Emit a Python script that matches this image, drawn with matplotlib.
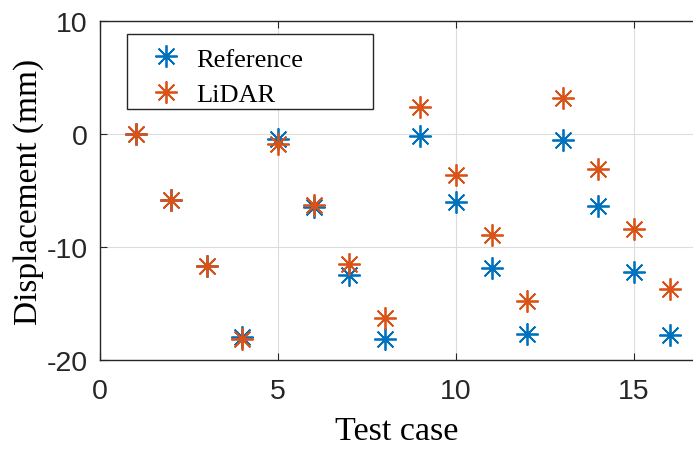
import numpy as np
import matplotlib.pyplot as plt
from matplotlib.patches import Rectangle

plt.rcParams['axes.unicode_minus'] = False

# ---------------- donnees ----------------
test_case = np.arange(1, 17)
reference = [0, -5.8, -11.7, -18.0, -0.45, -6.5, -12.5, -18.1,
             -0.15, -6.0, -11.9, -17.7, -0.55, -6.4, -12.2, -17.8]
lidar = [0, -5.8, -11.7, -18.1, -0.9, -6.25, -11.5, -16.3,
         2.4, -3.6, -8.9, -14.8, 3.2, -3.1, -8.4, -13.7]

blue = '#0072BD'
orange = '#D95319'

fig = plt.figure(figsize=(6.93, 4.56), dpi=100)
ax = fig.add_axes([0.1443, 0.2083, 0.8557, 0.7435])

ax.plot(test_case, reference, linestyle='none', marker=(8, 2, 0), markersize=16,
        markeredgewidth=1.3, color=blue, label='Reference')
ax.plot(test_case, lidar, linestyle='none', marker=(8, 2, 0), markersize=16,
        markeredgewidth=1.3, color=orange, label='LiDAR')

ax.set_xlim(0, 16.66)
ax.set_ylim(-20, 10)
ax.set_xticks([0, 5, 10, 15])
ax.set_yticks([-20, -10, 0, 10])
ax.grid(True, color='#dcdcdc', linewidth=0.8)
ax.set_axisbelow(True)

ax.spines['right'].set_visible(False)
for s in ['left', 'bottom', 'top']:
    ax.spines[s].set_color('#262626')
    ax.spines[s].set_linewidth(1.0)
ax.tick_params(direction='in', top=True, length=5, width=0.8, color='#262626',
               labelsize=20.5, labelcolor='#262626')
ax.tick_params(axis='x', pad=13)
ax.tick_params(axis='y', pad=9)
for lab in ax.get_xticklabels() + ax.get_yticklabels():
    lab.set_family('Liberation Sans')

ax.set_xlabel('Test case', family='Liberation Serif', fontsize=24.5, labelpad=8)
ax.set_ylabel('Displacement (mm)', family='Liberation Serif', fontsize=24, labelpad=2)

# legende facon matlab : cadre dessine a part
leg = ax.legend(loc='upper left', bbox_to_anchor=(0.084, 0.923),
                prop={'family': 'Liberation Serif', 'size': 19},
                frameon=False, handlelength=1.2, handletextpad=0.57,
                borderpad=0, labelspacing=0.45, borderaxespad=0)
ax.add_patch(Rectangle((0.0455, 0.740), 0.4145, 0.2217, transform=ax.transAxes,
                       facecolor='white', edgecolor='#262626', linewidth=1.0,
                       zorder=4))
leg.set_zorder(5)

plt.savefig('out.png', dpi=100)
